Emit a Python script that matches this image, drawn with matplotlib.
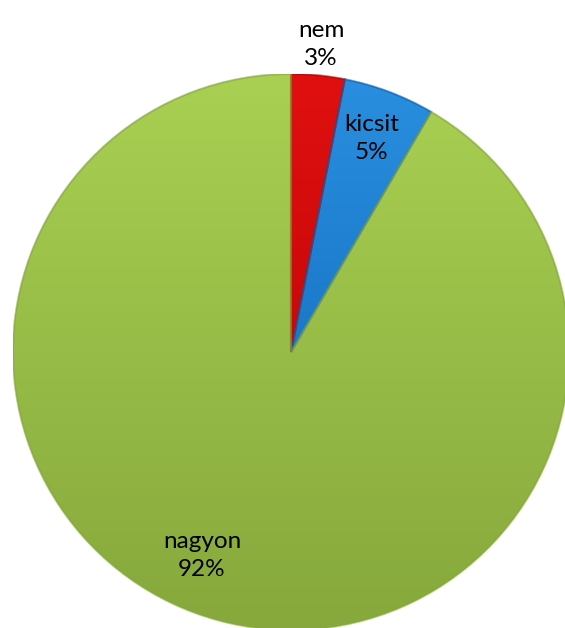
import numpy as np
import matplotlib.pyplot as plt
from matplotlib.colors import LinearSegmentedColormap
from matplotlib.patches import Wedge

labels = ['nem', 'kicsit', 'nagyon']
values = [3.1, 5.3, 91.6]
pct_text = ['3%', '5%', '92%']
colors_top = ['#E01010', '#2A8FE0', '#A9D052']
colors_bot = ['#B00000', '#0A60B0', '#86A83C']

plt.rcParams['font.family'] = ['Lato', 'DejaVu Sans']

fig = plt.figure(figsize=(5.65, 6.28), dpi=100)
# pie centre at ~(291, 352) px, radius ~278 px
ax = fig.add_axes([13 / 565, (628 - 352 - 278) / 628, 556 / 565, 556 / 628])

wedges, _ = ax.pie(values, startangle=90, counterclock=False, radius=1,
                   colors=colors_bot, wedgeprops=dict(linewidth=0))

# vertical gradient clipped to each wedge
grad = np.linspace(0, 1, 256).reshape(-1, 1)
for w, ct, cb in zip(wedges, colors_top, colors_bot):
    cmap = LinearSegmentedColormap.from_list('g', [cb, ct])
    im = ax.imshow(grad, cmap=cmap, extent=[-1, 1, -1, 1], origin='lower',
                   aspect='auto', zorder=w.get_zorder() + 0.1)
    im.set_clip_path(w)
    # soft rim
    rim = Wedge(w.center, w.r, w.theta1, w.theta2, facecolor='none',
                edgecolor=cb, linewidth=1.5, alpha=0.6, zorder=3)
    ax.add_patch(rim)

# label positions: radius and angle offsets (Excel "best fit")
label_r = [1.11, 0.82, 0.80]
label_shift = [0, 0, -8.5]
for w, lab, pct, r, sh in zip(wedges, labels, pct_text, label_r, label_shift):
    ang = np.deg2rad((w.theta1 + w.theta2) / 2 + sh)
    ax.text(r * np.cos(ang), r * np.sin(ang), lab + '\n' + pct,
            ha='center', va='center', fontsize=17.5, color='black',
            linespacing=1.4, zorder=5)

ax.set_xlim(-1, 1)
ax.set_ylim(-1, 1)
ax.set_aspect('auto')
ax.axis('off')

fig.savefig('out.png', dpi=100)
